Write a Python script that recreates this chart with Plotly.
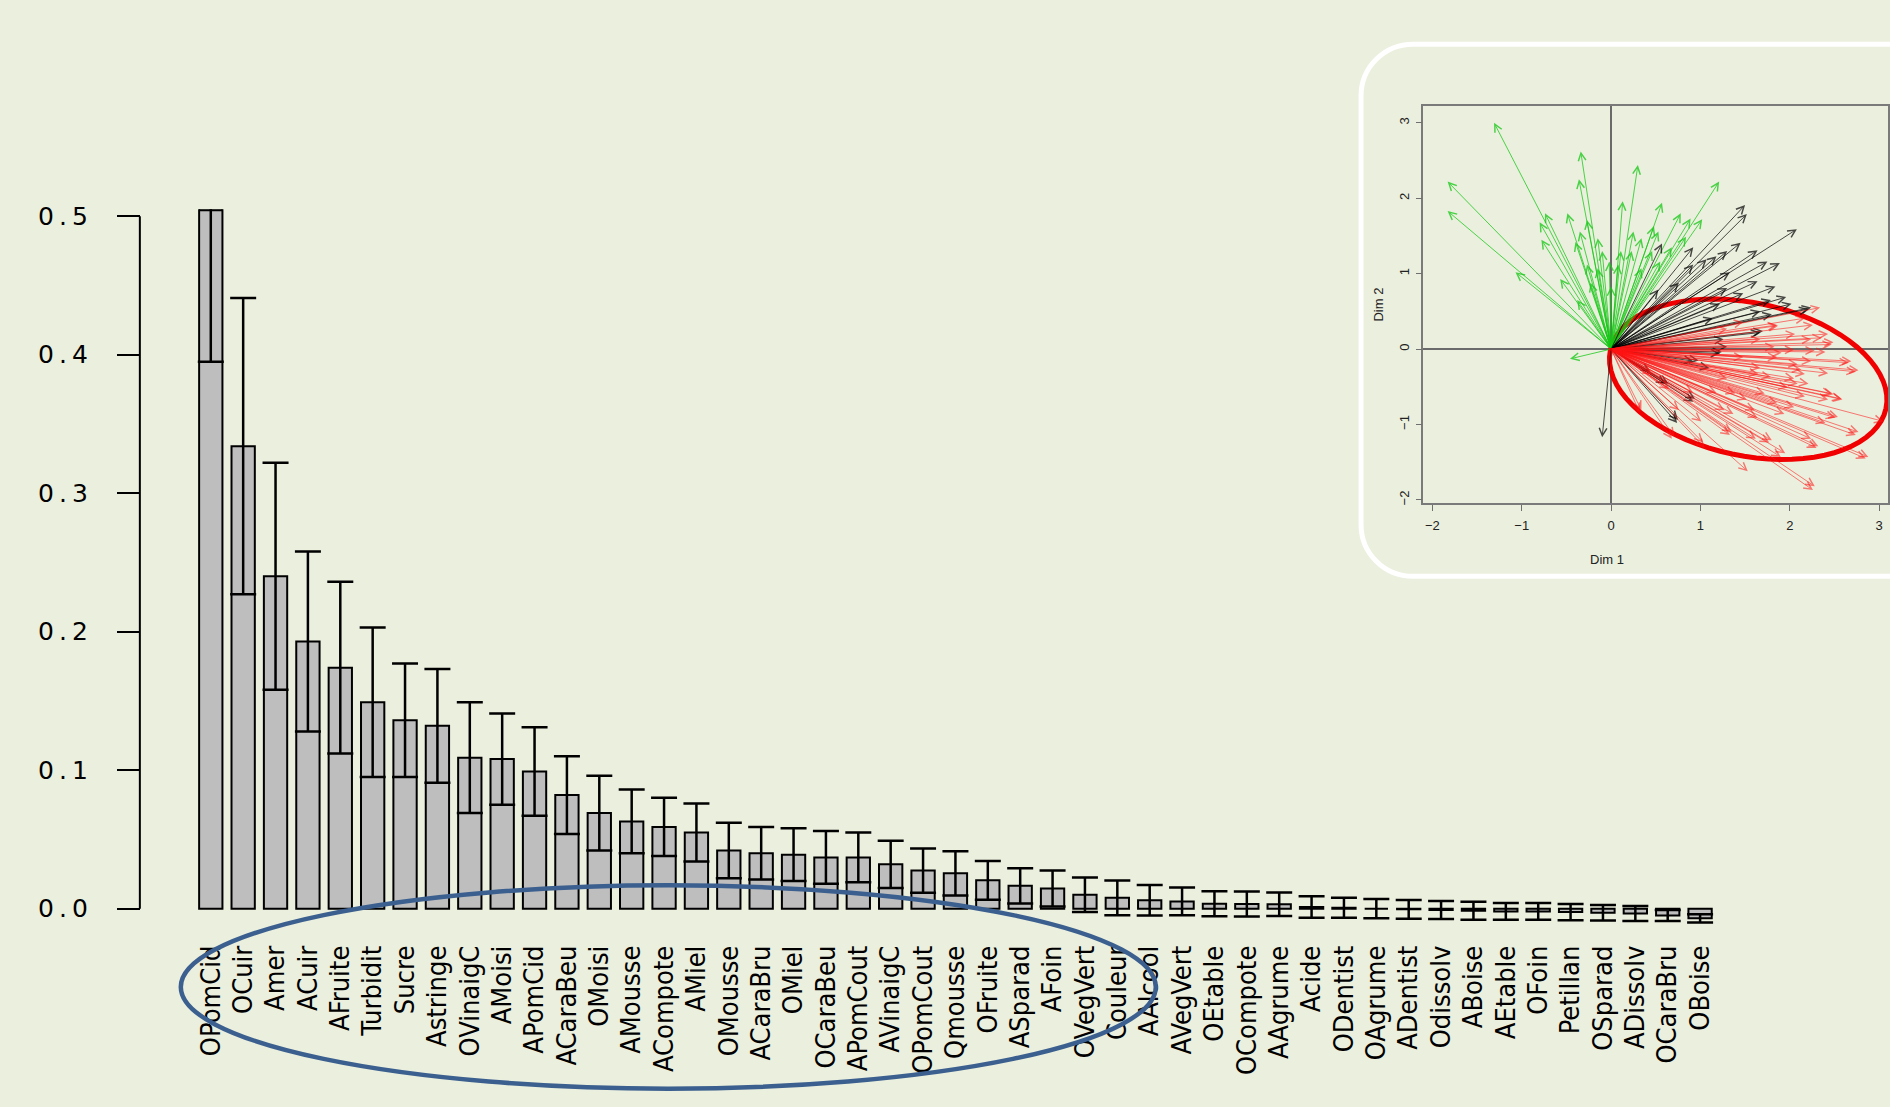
import math
import plotly.graph_objects as go

# ---- bar chart data: mean contribution per descriptor with its standard error ----
labels = ["OPomCid", "OCuir", "Amer", "ACuir", "AFruite", "Turbidit", "Sucre", "Astringe",
          "OVinaigC", "AMoisi", "APomCid", "ACaraBeu", "OMoisi", "AMousse", "ACompote", "AMiel",
          "OMousse", "ACaraBru", "OMiel", "OCaraBeu", "APomCout", "AVinaigC", "OPomCout",
          "Qmousse", "OFruite", "ASparad", "AFoin", "OVegVert", "Couleur", "AAlcool", "AVegVert",
          "OEtable", "OCompote", "AAgrume", "Acide", "ODentist", "OAgrume", "ADentist", "Odissolv",
          "ABoise", "AEtable", "OFoin", "Petillan", "OSparad", "ADissolv", "OCaraBru", "OBoise"]

values = [0.58, 0.334, 0.240, 0.193, 0.174, 0.149, 0.136, 0.132, 0.109, 0.108, 0.099, 0.082,
          0.069, 0.063, 0.059, 0.055, 0.042, 0.040, 0.039, 0.037, 0.037, 0.032, 0.0275, 0.0255,
          0.0205, 0.0165, 0.0145, 0.0100, 0.0078, 0.0060, 0.0052, 0.0036, 0.0034, 0.0032,
          0.0012, 0.0006, 0.0, -0.0005, -0.001, -0.0015, -0.002, -0.002, -0.0025, -0.003,
          -0.0035, -0.005, -0.007]

errors = [0.185, 0.107, 0.082, 0.065, 0.062, 0.054, 0.041, 0.041, 0.040, 0.033, 0.032, 0.028,
          0.027, 0.023, 0.021, 0.021, 0.020, 0.019, 0.019, 0.019, 0.018, 0.017, 0.016, 0.016,
          0.014, 0.0127, 0.013, 0.0125, 0.0125, 0.011, 0.010, 0.009, 0.009, 0.0085, 0.0077,
          0.0072, 0.007, 0.0068, 0.0065, 0.0065, 0.006, 0.006, 0.0058, 0.0056, 0.0055, 0.004, 0.003]

y_ticks = [0.0, 0.1, 0.2, 0.3, 0.4, 0.5]
y_tick_text = ["0\u2009.\u20090", "0\u2009.\u20091", "0\u2009.\u20092",
               "0\u2009.\u20093", "0\u2009.\u20094", "0\u2009.\u20095"]

# ---- variable map (Dim 1 / Dim 2) arrow tips, one group per colour ----
green_x = [-1.31, -1.83, -1.83, -1.07, -0.34, -0.36, -0.74, -0.80, -0.78, -0.49, -0.27, -0.35,
           -0.40, -0.15, -0.10, -0.27, -0.02, -0.38, 0.30, 0.13, 0.57, 1.21, 0.78, 0.89, 1.02,
           0.48, 0.25, 0.34, 0.53, 0.84, 0.11, 0.23, 0.55, 0.08, 0.34, -0.46, -0.15, -0.23,
           0.00, 0.46, 0.68, -0.57]
green_y = [3.00, 2.22, 1.83, 1.02, 2.62, 2.25, 1.80, 1.68, 1.45, 1.80, 1.71, 1.56, 1.42, 1.47,
           1.30, 1.12, 1.16, 0.65, 2.44, 1.96, 1.94, 2.22, 1.80, 1.73, 1.72, 1.63, 1.56, 1.47,
           1.56, 1.49, 1.30, 1.30, 1.16, 1.12, 1.07, -0.13, 1.07, 0.88, 0.83, 1.30, 1.35, 0.93]

black_x = [1.50, 1.52, 2.08, 1.45, 1.64, 1.89, 1.75, 1.30, 1.18, 0.92, 1.07, 0.57, 1.33, 1.64,
           1.84, 1.96, 1.79, 2.21, 2.02, 1.30, 1.48, 0.76, 0.53, 1.22, 1.67, 0.92, 1.14, 1.67,
           1.30, 1.22, 1.26, -0.10, 0.74, 0.92, 0.61, 0.44, 1.10, 0.92, 2.24, 1.80, 1.70, 1.24,
           0.64, 0.98, 0.75, 0.94]
black_y = [1.91, 1.79, 1.59, 1.41, 1.31, 1.14, 1.16, 1.30, 1.23, 1.35, 1.19, 1.40, 1.02, 0.90,
           0.83, 0.69, 0.65, 0.53, 0.60, 0.81, 0.74, 0.88, 0.79, 0.60, 0.50, 1.12, 0.41, 0.22,
           0.03, -0.06, 0.13, -1.17, -0.98, -0.70, -0.46, -0.30, -0.25, -0.16, 0.55, 0.46,
           0.24, -0.04, -0.46, -0.15, -0.94, -0.66]

red_x = [2.34, 2.17, 2.43, 2.36, 2.47, 2.40, 2.66, 2.74, 2.24, 2.05, 2.13, 2.05, 2.21, 1.86,
         1.67, 1.86, 1.79, 1.98, 2.49, 2.59, 2.43, 2.51, 2.40, 3.05, 2.74, 2.85, 2.30, 2.24,
         1.90, 1.77, 1.62, 2.26, 1.53, 1.33, 1.05, 1.03, 0.68, 0.32, 1.01, 1.37, 1.52, 1.18,
         1.30, 0.92, 0.76, 2.05, 2.17, 1.48, 1.67, 1.94, 1.64, 1.86, 2.24, 1.83, 1.48, 1.30,
         0.46, 0.65, 2.26, 2.49, 2.69, 2.77, 2.43, 2.58, 2.47, 2.54, 2.77, 2.88, 2.28, 2.32,
         1.95, 1.80, 1.35, 0.71, 0.34, 2.09, 2.09, 1.91, 2.06, 1.87, 1.65, 1.39, 1.61, 1.27,
         1.72, 2.17, 2.28]
red_y = [0.55, 0.41, 0.20, 0.15, 0.06, -0.04, -0.18, -0.30, -0.16, -0.01, -0.27, -0.39, -0.46,
         0.32, 0.13, -0.11, -0.37, -0.51, -0.60, -0.67, -0.67, -0.91, -0.98, -0.96, -1.14,
         -1.45, -1.31, -1.19, -1.43, -1.24, -1.19, -1.87, -1.62, -1.14, -1.31, -1.24, -1.19,
         -0.84, -0.96, -0.86, -0.67, -0.58, -0.39, -0.58, -0.81, -0.77, -0.63, -0.11, -0.25,
         -0.86, -0.91, -0.72, 0.13, 0.03, 0.36, 0.27, -0.34, -0.53, 0.32, 0.09, -0.16, -0.28,
         -0.32, -0.66, -0.59, -0.90, -1.10, -1.43, -1.82, -1.29, -1.38, -1.21, -1.10, -1.16,
         -0.81, -0.46, -0.20, -0.05, 0.20, 0.31, -0.33, -0.59, -0.81, -0.81, -0.59, -0.33, -0.02]

dim_ticks = [-2, -1, 0, 1, 2, 3]

# ---- page geometry (pixels) ----
W, H = 1890, 1107
BG = "#EBEFDE"
SMALL = dict(family="Liberation Sans, Arial, sans-serif", size=13, color="#222")


def px_x(v):
    return v / W


def px_y(v):
    return 1 - v / H


fig = go.Figure()

fig.add_trace(go.Bar(
    x=list(range(len(labels))), y=values, width=0.72,
    marker=dict(color="#BEBEBE", line=dict(color="black", width=2)),
    error_y=dict(type="data", array=errors, visible=True, color="black",
                 thickness=2.5, width=13),
    xaxis="x", yaxis="y", hoverinfo="x+y", showlegend=False,
))

# invisible trace so the inset axes are drawn
fig.add_trace(go.Scatter(x=[0], y=[0], mode="markers", marker=dict(size=0.1, opacity=0),
                         xaxis="x2", yaxis="y2", showlegend=False, hoverinfo="skip"))

layout = dict(
    width=W, height=H,
    margin=dict(l=0, r=0, t=0, b=0),
    paper_bgcolor=BG, plot_bgcolor="rgba(0,0,0,0)",
    showlegend=False,
    xaxis=dict(
        domain=[px_x(178.6), px_x(1734.3)], range=[-1, 47], anchor="y",
        tickmode="array", tickvals=list(range(len(labels))), ticktext=labels,
        tickangle=-90, ticks="", showline=False, showgrid=False, zeroline=False,
        tickfont=dict(family="DejaVu Sans Condensed, Liberation Sans Narrow, sans-serif",
                      size=27, color="black"),
        ticklabelstandoff=14,
    ),
    yaxis=dict(
        domain=[px_y(925.8), px_y(204)], range=[-0.012, 0.505],
        anchor="free", position=px_x(140),
        tickmode="array", tickvals=y_ticks, ticktext=y_tick_text,
        ticks="outside", ticklen=23, tickwidth=2, tickcolor="black",
        showline=False, showgrid=False, zeroline=False,
        tickfont=dict(family="DejaVu Sans, sans-serif", size=25, color="black"),
        ticklabelstandoff=24,
    ),
    xaxis2=dict(
        domain=[px_x(1425), 1.0], range=[-2.10, 3.10], anchor="y2",
        tickmode="array", tickvals=dim_ticks,
        ticks="outside", ticklen=6, tickcolor="#6f6f6f", tickwidth=1.2,
        showline=True, mirror=True, linecolor="#7a7a7a", linewidth=1.5,
        showgrid=False, zeroline=True, zerolinecolor="#6a6a6a", zerolinewidth=1.5,
        tickfont=SMALL, ticklabelstandoff=4,
    ),
    yaxis2=dict(
        domain=[px_y(500), px_y(100)], range=[-2.04, 3.22], anchor="x2",
        tickmode="array", tickvals=dim_ticks, tickangle=-90,
        ticks="outside", ticklen=6, tickcolor="#6f6f6f", tickwidth=1.2,
        showline=True, mirror=True, linecolor="#7a7a7a", linewidth=1.5,
        showgrid=False, zeroline=True, zerolinecolor="#6a6a6a", zerolinewidth=1.5,
        tickfont=SMALL, ticklabelstandoff=2,
        title=dict(text="Dim 2", standoff=10, font=SMALL),
    ),
)
fig.update_layout(**layout)

shapes = []

# y axis line spanning only the labelled range
shapes.append(dict(type="line", xref="paper", yref="y", x0=px_x(140), x1=px_x(140),
                   y0=y_ticks[0], y1=y_ticks[-1], line=dict(color="black", width=2)))

# outline along the clipped top of the first bar
shapes.append(dict(type="line", xref="x", yref="paper", x0=-0.36, x1=0.36,
                   y0=px_y(205), y1=px_y(205), line=dict(color="black", width=2)))

# blue highlight ellipse around the leading descriptors
bcx, bcy, brx, bry = 669, 988, 488, 102.5
shapes.append(dict(type="circle", xref="paper", yref="paper",
                   x0=px_x(bcx - brx), x1=px_x(bcx + brx),
                   y0=px_y(bcy + bry), y1=px_y(bcy - bry),
                   line=dict(color="#3B5F8E", width=4.5), layer="above"))

# white rounded frame around the inset
L, T, B, R_out, r = 1362.5, 37.5, 574.0, 1960.0, 52.0
k = 0.5523 * r
frame_pts = [
    ("M", [(R_out, T)]),
    ("L", [(L + r, T)]),
    ("C", [(L + r - k, T), (L, T + r - k), (L, T + r)]),
    ("L", [(L, B - r)]),
    ("C", [(L, B - r + k), (L + r - k, B), (L + r, B)]),
    ("L", [(R_out, B)]),
]
frame_path = " ".join(
    cmd + " " + " ".join(f"{px_x(a):.5f},{px_y(b):.5f}" for a, b in pts) for cmd, pts in frame_pts
)
shapes.append(dict(type="path", xref="paper", yref="paper", path=frame_path,
                   line=dict(color="white", width=5)))

# red tilted ellipse on the inset (drawn in screen pixels, mapped onto the inset axes)
sx, sy = 89.4, 76.0            # pixels per unit on Dim 1 / Dim 2
ecx, ecy = 1.535, -0.401        # centre in Dim units
ea, eb, tilt = 141.0, 77.0, math.radians(12)
pts = []
for i in range(73):
    t = 2 * math.pi * i / 72
    dx = ea * math.cos(t) * math.cos(tilt) - eb * math.sin(t) * math.sin(tilt)
    dy = ea * math.cos(t) * math.sin(tilt) + eb * math.sin(t) * math.cos(tilt)
    pts.append((ecx + dx / sx, ecy - dy / sy))
ell_path = "M " + " L ".join(f"{a:.4f},{b:.4f}" for a, b in pts) + " Z"
shapes.append(dict(type="path", xref="x2", yref="y2", path=ell_path,
                   line=dict(color="#F00000", width=5), layer="above"))

fig.update_layout(shapes=shapes)

# arrows of the variable map
annotations = []
for xs, ys, col in [(green_x, green_y, "rgba(20,200,20,0.75)"),
                    (black_x, black_y, "rgba(0,0,0,0.7)"),
                    (red_x, red_y, "rgba(255,20,20,0.55)")]:
    for xv, yv in zip(xs, ys):
        annotations.append(dict(
            x=xv, y=yv, xref="x2", yref="y2", ax=0, ay=0, axref="x2", ayref="y2",
            text="", showarrow=True, arrowhead=5, arrowsize=1.5, arrowwidth=1,
            arrowcolor=col,
        ))

# x title of the variable map, centred under the visible part of the frame
annotations.append(dict(text="Dim 1", xref="paper", yref="paper",
                        x=px_x(1609), y=px_y(557), xanchor="center", yanchor="middle",
                        showarrow=False, font=SMALL))
fig.update_layout(annotations=annotations)

fig.write_html("out.html")
